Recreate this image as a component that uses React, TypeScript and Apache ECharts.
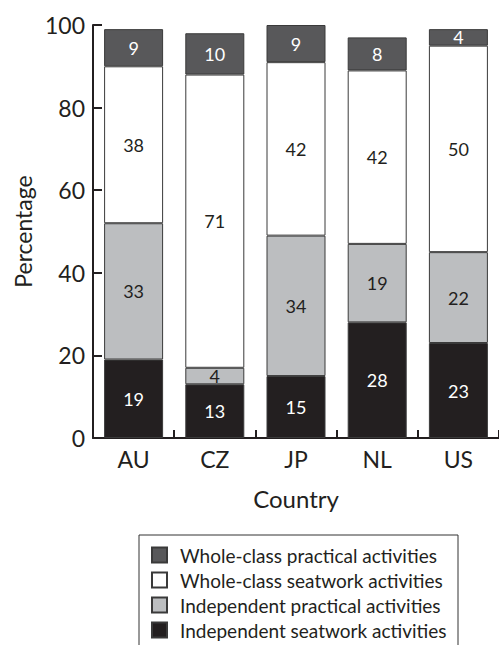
import React, { useEffect, useRef } from "react";
import * as echarts from "echarts";

const countries = ["AU", "CZ", "JP", "NL", "US"];
const independentSeatwork = [19, 13, 15, 28, 23];
const independentPractical = [33, 4, 34, 19, 22];
const wholeClassSeatwork = [38, 71, 42, 42, 50];
const wholeClassPractical = [9, 10, 9, 8, 4];
const legendOrder = [
  "Whole-class practical activities",
  "Whole-class seatwork activities",
  "Independent practical activities",
  "Independent seatwork activities",
];

const FONT = "Lato, 'Open Sans', sans-serif";
const INK = "#231f20";

export default function App() {
  const ref = useRef<HTMLDivElement>(null);
  useEffect(() => {
    if (!ref.current) return;
    const chart = echarts.init(ref.current, null, { renderer: "svg" });
    const mk = (name: string, data: number[], color: string, labelColor: string) => ({
      name,
      type: "bar",
      stack: "total",
      barWidth: 59,
      data,
      itemStyle: { color, borderColor: "#3a3a3a", borderWidth: 1 },
      label: {
        show: true,
        position: "inside",
        color: labelColor,
        fontFamily: FONT,
        fontSize: 18,
      },
    });
    chart.setOption({
      animation: false,
      backgroundColor: "#ffffff",
      textStyle: { fontFamily: FONT },
      grid: { left: 93, right: -6.5, top: 25, bottom: 207, containLabel: false },
      xAxis: {
        type: "category",
        data: countries,
        name: "Country",
        nameLocation: "middle",
        nameGap: 48,
        nameTextStyle: { fontSize: 24, color: INK, fontFamily: FONT },
        axisLine: { lineStyle: { color: INK, width: 2 } },
        axisTick: { show: true, inside: true, length: 8, lineStyle: { color: INK, width: 2 } },
        axisLabel: { fontSize: 23, color: INK, margin: 9, fontFamily: FONT },
      },
      yAxis: {
        type: "value",
        min: 0,
        max: 100,
        interval: 20,
        name: "Percentage",
        nameLocation: "middle",
        nameGap: 56,
        nameTextStyle: { fontSize: 23, color: INK, fontFamily: FONT },
        axisLine: { show: true, lineStyle: { color: INK, width: 2 } },
        axisTick: { show: true, inside: true, length: 9, lineStyle: { color: INK, width: 2 } },
        axisLabel: { fontSize: 23, color: INK, margin: 8, fontFamily: FONT },
        splitLine: { show: false },
      },
      legend: {
        data: legendOrder,
        orient: "vertical",
        left: 151,
        top: 545,
        padding: 0,
        itemWidth: 15,
        itemHeight: 15,
        itemGap: 5,
        icon: "rect",
        textStyle: {
          fontSize: 19,
          color: INK,
          fontFamily: FONT,
          lineHeight: 20,
          padding: [0, 0, 0, 8],
        },
      },
      graphic: [
        {
          type: "rect",
          shape: { x: 139, y: 535, width: 319, height: 130 },
          style: { fill: "none", stroke: "#333333", lineWidth: 1 },
          silent: true,
        },
      ],
      series: [
        mk("Independent seatwork activities", independentSeatwork, "#231f20", "#ffffff"),
        mk("Independent practical activities", independentPractical, "#bcbec0", INK),
        mk("Whole-class seatwork activities", wholeClassSeatwork, "#ffffff", INK),
        mk("Whole-class practical activities", wholeClassPractical, "#58585a", "#ffffff"),
      ],
    });
    return () => chart.dispose();
  }, []);
  return (
    <div
      ref={ref}
      style={{ position: "fixed", left: 0, top: 0, width: 499, height: 645, background: "#fff" }}
    />
  );
}
